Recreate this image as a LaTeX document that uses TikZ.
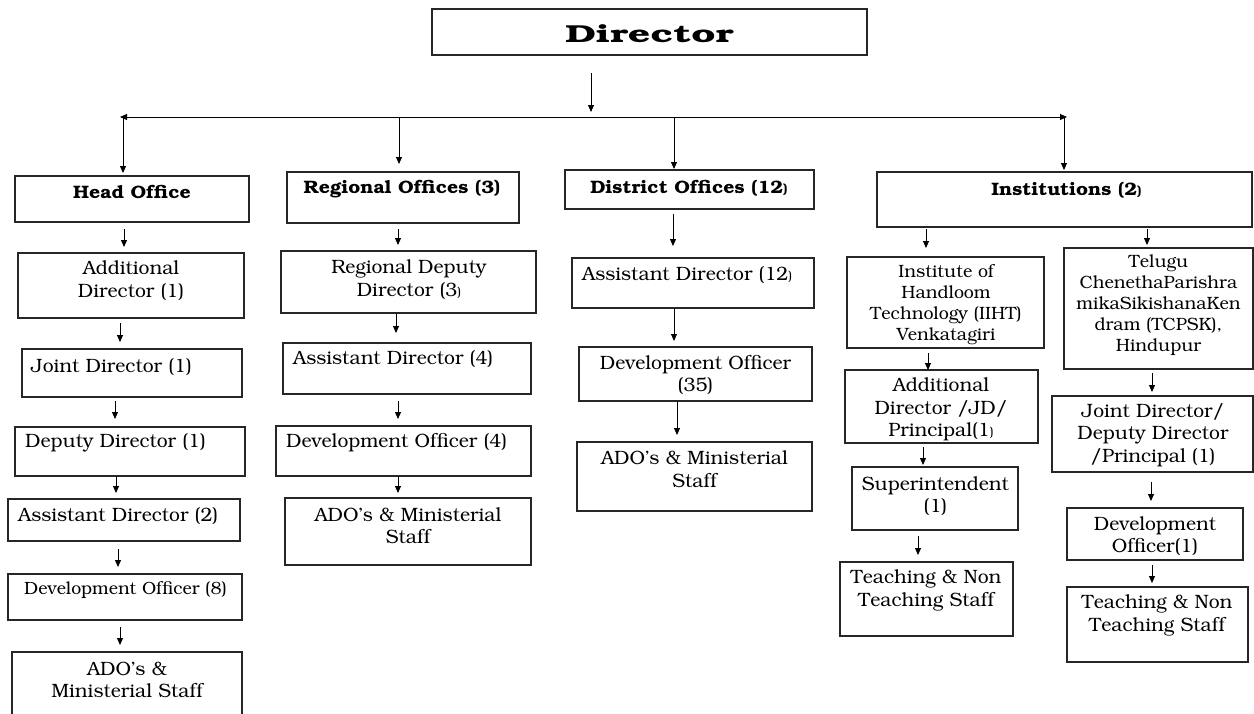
\documentclass[tikz,border=0pt]{standalone}
\usepackage[T1]{fontenc}
\usepackage{bookman}
\usetikzlibrary{arrows.meta,calc}
\newcommand\bodyfont{\fontsize{19.3}{22.5}\selectfont}
\newcommand\instfont{\fontsize{17.8}{21}\selectfont}
\newcommand\hdrfont{\fontsize{18}{20}\selectfont\bfseries}
\newcommand\sm[1]{{\fontsize{13}{13}\selectfont #1}}
\newcommand\hx[1]{\scalebox{1.08}[1]{#1}}
\newcommand\bx[5]{\node[box, minimum width={(#4-#2)*1pt}, minimum height={(#5-#3)*1pt}] (#1) at ({(#2+#4)/2},{(#3+#5)/2}) {};}
\newcommand\ar[6]{\draw[arr] ($(#1.south)+(#2,#3)$) -- ($(#4.north)+(#5,#6)$);}
\begin{document}
\begin{tikzpicture}[x=1pt,y=-1pt,
  box/.style={draw=black!85, line width=1.2pt, inner sep=0pt, outer sep=0pt},
  arr/.style={-{Triangle[length=7pt,width=6pt]}, line width=0.9pt},
  arrboth/.style={{Triangle[length=7pt,width=6pt]}-{Triangle[length=7pt,width=6pt]}, line width=0.9pt},
  txt/.style={inner sep=0pt, align=center, font=\bodyfont},
  ltxt/.style={inner sep=0pt, anchor=west, font=\bodyfont},
  itxt/.style={inner sep=0pt, align=center, font=\instfont},
  hdr/.style={inner sep=0pt, font=\hdrfont}]
\useasboundingbox (0,0) rectangle (1254,713);
% top
\bx{dir}{432}{9}{867}{55}
\node[inner sep=0pt, font=\fontsize{24.5}{28}\selectfont\bfseries] (dirT) at (649.5,34) {\scalebox{1.6}[1]{Director}};
\bx{ho}{15}{176}{249}{222}
\node[hdr] (hoT) at (132,192.5) {\hx{Head Office}};
\bx{ro}{287}{172}{519}{223}
\node[hdr] (roT) at (402,189) {\hx{Regional Offices (3)}};
\bx{do}{565}{170}{814}{209}
\node[hdr] (doT) at (689,188) {\hx{District Offices (12\sm{)}}};
\bx{in}{877}{172}{1252}{227}
\node[hdr] (inT) at (1066.5,190) {\hx{Institutions (2\sm{)}}};
\coordinate (dirTip) at (591,112);
\coordinate (barL) at (120,117);
\coordinate (barR) at (1067,117);
\coordinate (j1) at (123,117);
\coordinate (j2) at (399,117);
\coordinate (j3) at (674,117);
\coordinate (j4) at (1064,117);
\draw[arr] ($(dir.south)+(-58.5,18)$) -- (dirTip);
\draw[arrboth] (barL) -- (barR);
\draw[arr] (j1) -- ($(ho.north)+(-9,-3)$);
\draw[arr] (j2) -- ($(ro.north)+(-4,-8)$);
\draw[arr] (j3) -- ($(do.north)+(-15.5,-1)$);
\draw[arr] (j4) -- ($(in.north)+(-0.5,-2)$);
% head office column
\bx{hoA}{18}{253}{244}{318}
\node[txt] (hoAt) at (131,280.5) {Additional\\Director (1)};
\bx{hoB}{22}{349}{242}{397}
\node[ltxt] (hoBt) at (31,367) {Joint Director (1)};
\bx{hoC}{15}{427}{245}{476}
\node[ltxt] (hoCt) at (25,443) {Deputy Director (1)};
\bx{hoD}{8}{499}{240}{541}
\node[ltxt] (hoDt) at (18,516) {Assistant Director (2)};
\bx{hoE}{8}{574}{242}{620}
\node[ltxt, font=\fontsize{17.7}{20}\selectfont] (hoEt) at (24,590) {Development Officer (8)};
\bx{hoF}{12}{652}{242}{720}
\node[txt] (hoFt) at (127,680) {ADO's \&\\Ministerial Staff};
\ar{ho}{-8}{7}{hoA}{-7}{-6}
\ar{hoA}{-11}{5}{hoB}{-12}{-7}
\ar{hoB}{-17}{4}{hoC}{-15}{-8}
\ar{hoC}{-14}{0}{hoD}{-8}{-6}
\ar{hoD}{-6}{8}{hoE}{-7}{-7}
\ar{hoE}{-5}{7}{hoF}{-7}{-7}
% regional column
\bx{roA}{281}{251}{536}{313}
\node[txt] (roAt) at (409,279.5) {Regional Deputy\\Director (3\sm{)}};
\bx{roB}{283}{343}{531}{394}
\node[ltxt] (roBt) at (293,359) {Assistant Director (4)};
\bx{roC}{276}{426}{531}{476}
\node[ltxt] (roCt) at (286,443) {Development Officer (4)};
\bx{roD}{285}{498}{531}{565}
\node[txt] (roDt) at (408,526) {ADO's \& Ministerial\\Staff};
\ar{ro}{-5}{6}{roA}{-10.5}{-6}
\ar{roA}{-12.5}{1}{roB}{-11}{-10}
\ar{roB}{-9}{7}{roC}{-5.5}{-7}
\ar{roC}{-5.5}{0}{roD}{-10}{-5}
% district column
\bx{doA}{572}{258}{814}{308}
\node[ltxt] (doAt) at (582,275) {Assistant Director (12\sm{)}};
\bx{doB}{579}{347}{812}{401}
\node[txt] (doBt) at (695.5,374.5) {Development Officer\\(35)};
\bx{doC}{577}{442}{812}{511}
\node[txt] (doCt) at (694.5,469.5) {ADO's \& Ministerial\\Staff};
\ar{do}{-16.5}{5}{doA}{-20}{-12}
\ar{doA}{-19}{0}{doB}{-21.5}{-6}
\ar{doB}{-18.5}{0}{doC}{-17.5}{-7}
% institutions left
\bx{inA}{847}{257}{1044}{348}
\node[itxt] (inAt) at (946,304.5) {Institute of\\Handloom\\Technology (IIHT)\\Venkatagiri};
\bx{inB}{845}{370}{1038}{443}
\node[txt] (inBt) at (941,409.5) {Additional\\Director /JD/\\Principal(1\sm{)}};
\bx{inC}{852}{467}{1018}{530}
\node[txt] (inCt) at (935.5,496) {Superintendent\\(1)};
\bx{inD}{840}{562}{1013}{636}
\node[txt] (inDt) at (926,590.5) {Teaching \& Non\\Teaching Staff};
\ar{in}{-138.5}{2}{inA}{-19.5}{-9}
\ar{inA}{-17.5}{5}{inB}{-13.5}{0}
\ar{inB}{-18.5}{4}{inC}{-12}{-2}
\ar{inC}{-17}{6}{inD}{-8.5}{-7}
% institutions right
\bx{inE}{1064}{248}{1253}{369}
\node[itxt] (inEt) at (1158.5,305) {Telugu\\ChenethaParishra\\mikaSikishanaKen\\dram (TCPSK),\\Hindupur};
\bx{inF}{1052}{396}{1253}{472}
\node[txt] (inFt) at (1153,435) {Joint Director/\\Deputy Director\\/Principal (1)};
\bx{inG}{1067}{508}{1243}{560}
\node[txt] (inGt) at (1155,536) {Development\\Officer(1)};
\bx{inH}{1067}{587}{1248}{662}
\node[txt] (inHt) at (1157,615.5) {Teaching \& Non\\Teaching Staff};
\ar{in}{82.5}{2}{inE}{-11.5}{-3}
\ar{inE}{-6.5}{4}{inF}{-0.5}{-4}
\ar{inF}{-1.5}{10}{inG}{-4}{-7}
\ar{inG}{-3}{5}{inH}{-5.5}{-4}
\end{tikzpicture}
\end{document}
